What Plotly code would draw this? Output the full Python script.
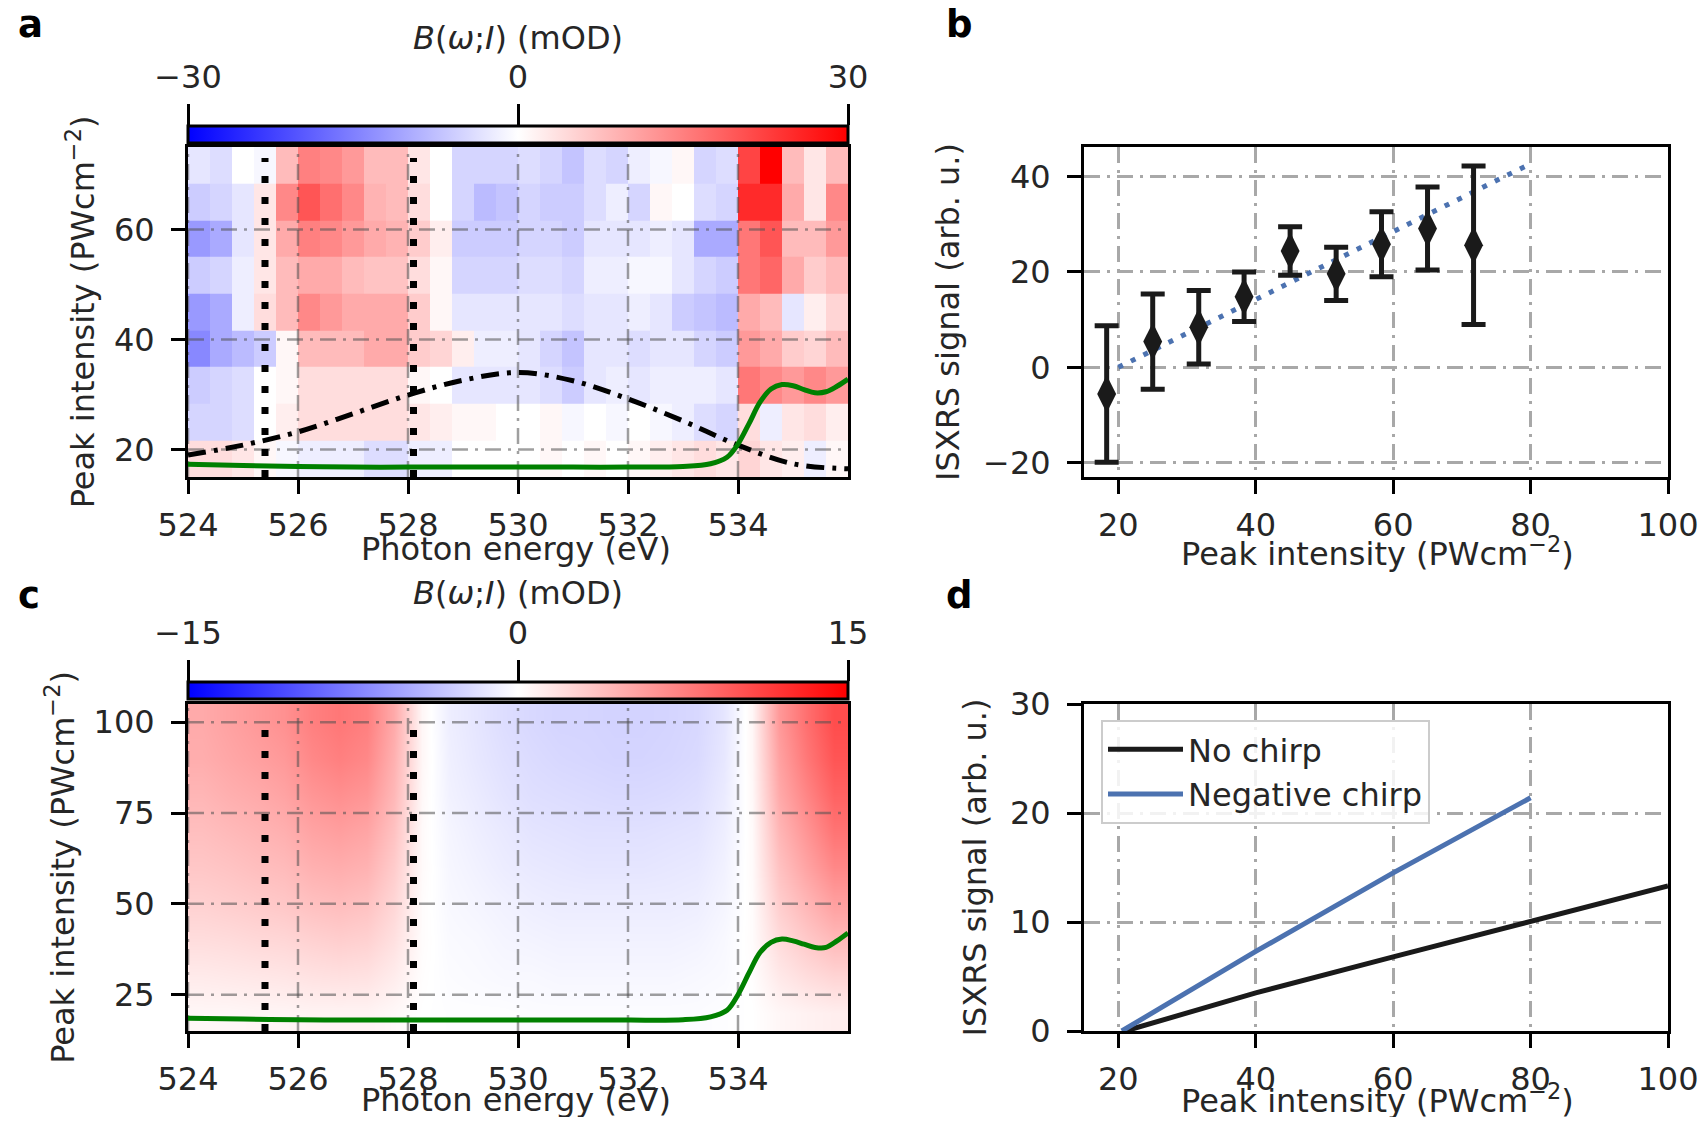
import plotly.graph_objects as go

# page body has an 8 px margin, so the figure is made smaller and positions are given in window px
OFF = 8
SW, SH = 1706, 1125
W, H = SW - 2 * OFF, SH - 2 * OFF
FONT = "DejaVu Sans"
TXT = "#262626"

# ---------------- Panel a data ----------------
energy_a = [524.2, 524.6, 525.0, 525.4, 525.8, 526.2, 526.6, 527.0, 527.4, 527.8,
            528.2, 528.6, 529.0, 529.4, 529.8, 530.2, 530.6, 531.0, 531.4, 531.8,
            532.2, 532.6, 533.0, 533.4, 533.8, 534.2, 534.6, 535.0, 535.4, 535.8]
intensity_a = [18.3, 25.0, 31.7, 38.3, 45.0, 51.7, 58.3, 65.0, 71.7]
B_a = [
    [4, 4, 3, 1, -1, -2, -2, -2, -4, -4, -2, -2, 0, 0, 0, 0, 1, 0, 1, 0, 1, 2, 3, 4, 3, 5, 3, 2, -2, 1],
    [-5, -5, -4, 0, 2, 4, 4, 4, 4, 4, 3, 2, 1, 1, 0, 0, 1, -1, 0, -1, 0, -1, -2, -4, -5, 4, -2, 3, 4, 2],
    [-6, -5, -4, 0, 1, 4, 4, 4, 4, 4, 1, 0, -3, -3, -3, -3, -4, -6, -3, -2, -3, -2, -2, -2, -3, 16, 14, 12, 14, 12],
    [-14, -10, -8, -6, 1, 8, 8, 8, 10, 10, 6, 5, 2, -2, -2, -3, -5, -7, -3, -3, -4, -3, -3, -5, -6, 12, 10, 6, 5, 8],
    [-12, -10, -2, 4, 8, 14, 12, 10, 10, 10, 6, 1, -3, -3, -3, -3, -3, -4, -3, -3, -2, -3, -6, -7, -8, 10, 8, -3, 2, 5],
    [-6, -5, -2, 3, 8, 10, 10, 8, 7, 7, 4, 1, -5, -5, -5, -4, -4, -5, -2, -2, -1, -1, -3, -5, -6, 16, 18, 10, 6, 8],
    [-12, -10, -3, 3, 10, 15, 14, 12, 10, 9, 6, 2, -6, -6, -6, -5, -5, -6, -3, -3, -3, -2, -3, -10, -10, 16, 20, 8, 8, 12],
    [-6, -5, -3, 3, 14, 20, 17, 14, 9, 8, 4, 0, -5, -8, -7, -5, -6, -6, -4, -2, -5, 1, 0, -4, -5, 25, 25, 10, 3, 14],
    [-3, -4, 0, -1, 8, 15, 14, 12, 8, 8, 3, 0, -5, -5, -5, -4, -5, -7, -4, -5, -2, -1, 1, -5, -4, 22, 30, 8, 3, 8],
]
pulse_energy = [524, 525, 526, 527, 528, 529, 530, 531, 532, 533, 534, 535, 536]
pulse_a = [19.0, 20.8, 23.2, 26.5, 29.9, 32.6, 34.0, 32.5, 29.2, 25.2, 20.8, 17.4, 16.5]

green_energy = [524.0, 525.0, 526.0, 527.0, 528.0, 529.0, 530.0, 531.0, 532.0, 533.0, 533.5,
                533.8, 534.0, 534.2, 534.4, 534.6, 534.8, 535.0, 535.2, 535.4, 535.6, 535.8, 536.0]
green_a = [17.3, 17.1, 16.9, 16.8, 16.8, 16.8, 16.8, 16.8, 16.8, 16.9, 17.4,
           18.6, 21.0, 24.7, 28.6, 31.0, 31.8, 31.6, 30.9, 30.3, 30.5, 31.5, 32.8]
green_c = [18.5, 18.3, 18.1, 18.0, 18.0, 18.0, 18.0, 18.0, 18.0, 18.1, 18.9,
           20.7, 25.0, 31.0, 36.6, 39.4, 40.3, 39.8, 38.9, 38.0, 38.0, 39.8, 42.0]

vline_energy = [525.4, 528.1]
vline_top_a = 73.0
vline_top_c = 101.0

# ---------------- Panel c data ----------------
energy_c = [524.25, 524.75, 525.25, 525.75, 526.25, 526.75, 527.25, 527.75, 528.25, 528.75,
            529.25, 529.75, 530.25, 530.75, 531.25, 531.75, 532.25, 532.75, 533.25, 533.75,
            534.25, 534.75, 535.25, 535.75]
intensity_c = [20, 30, 40, 50, 60, 70, 80, 90, 100]
B_c = [
    [0.5, 0.5, 0.6, 0.6, 0.7, 0.7, 0.7, 0.4, 0.0, -0.1, -0.1, -0.1, -0.2, -0.2, -0.2, -0.2, -0.2, -0.2, -0.2, -0.1, 0.0, 0.5, 0.8, 1.0],
    [1.2, 1.3, 1.4, 1.5, 1.7, 1.8, 1.7, 1.1, 0.1, -0.2, -0.3, -0.4, -0.4, -0.5, -0.5, -0.5, -0.5, -0.5, -0.4, -0.3, 0.1, 1.3, 2.0, 2.5],
    [2.0, 2.1, 2.3, 2.4, 2.7, 2.9, 2.7, 1.8, 0.2, -0.3, -0.4, -0.6, -0.7, -0.8, -0.8, -0.8, -0.8, -0.8, -0.7, -0.4, 0.2, 2.1, 3.2, 4.1],
    [2.7, 2.9, 3.1, 3.3, 3.7, 3.9, 3.6, 2.4, 0.2, -0.4, -0.6, -0.8, -1.0, -1.1, -1.1, -1.1, -1.1, -1.1, -1.0, -0.6, 0.2, 2.9, 4.3, 5.6],
    [3.3, 3.5, 3.8, 4.0, 4.6, 4.8, 4.5, 3.0, 0.3, -0.5, -0.8, -1.1, -1.3, -1.4, -1.5, -1.5, -1.5, -1.4, -1.3, -0.8, 0.3, 3.6, 5.4, 7.0],
    [3.8, 4.1, 4.4, 4.7, 5.4, 5.7, 5.3, 3.6, 0.3, -0.6, -1.0, -1.3, -1.6, -1.7, -1.8, -1.8, -1.8, -1.7, -1.6, -1.0, 0.3, 4.3, 6.3, 8.2],
    [4.3, 4.7, 5.0, 5.4, 6.2, 6.6, 6.2, 4.2, 0.4, -0.8, -1.2, -1.6, -1.9, -2.0, -2.1, -2.2, -2.2, -2.1, -1.9, -1.2, 0.4, 5.0, 7.2, 9.2],
    [4.8, 5.2, 5.6, 6.0, 7.0, 7.5, 7.0, 4.6, 0.5, -0.9, -1.4, -1.8, -2.1, -2.3, -2.4, -2.5, -2.5, -2.4, -2.2, -1.4, 0.5, 5.5, 8.0, 10.0],
    [5.0, 5.5, 6.0, 6.5, 7.5, 8.0, 7.5, 5.0, 0.5, -1.0, -1.5, -2.0, -2.3, -2.5, -2.5, -2.6, -2.6, -2.5, -2.3, -1.5, 0.5, 6.0, 8.5, 10.5],
]

# ---------------- Panel b data ----------------
intensity_b = [18.3, 25.0, 31.7, 38.3, 45.0, 51.7, 58.3, 65.0, 71.7]
isxrs_b = [-5.6, 5.4, 8.4, 14.8, 24.4, 19.6, 25.8, 29.1, 25.6]
isxrs_err = [14.3, 10.0, 7.7, 5.2, 5.1, 5.6, 6.8, 8.7, 16.6]
fit_x = [20, 80]
fit_y = [0.0, 42.7]

# ---------------- Panel d data ----------------
nochirp_x = [21, 40, 60, 80, 100]
nochirp_y = [0.0, 3.5, 6.8, 10.0, 13.3]
negchirp_x = [20.5, 40, 60, 80]
negchirp_y = [0.0, 7.3, 14.5, 21.4]

# ---------------- ticks / ranges ----------------
energy_ticks = [524, 526, 528, 530, 532, 534]
energy_range = [524, 536]
int_ticks_a = [20, 40, 60]
int_range_a = [15, 75]
int_ticks_c = [25, 50, 75, 100]
int_range_c = [15, 105]
cb_ticks_a = [-30, 0, 30]
cb_ticks_c = [-15, 0, 15]
peak_ticks = [20, 40, 60, 80, 100]
peak_range = [15, 100]
b_yticks = [-20, 0, 20, 40]
b_yrange = [-23, 46.2]
d_yticks = [0, 10, 20, 30]
d_yrange = [0, 30]

BWR = [[0.0, "rgb(0,0,255)"], [0.5, "rgb(255,255,255)"], [1.0, "rgb(255,0,0)"]]
GREEN = "#008000"
BLUE = "#4C72B0"
DASHDOT = "18px,8px,4px,8px"
GRIDDASH = "16px,7px,3px,7px"


def fx(sx):
    return (sx - OFF) / W


def fy(sy):
    return 1 - (sy - OFF) / H


def xd(a, b):
    return [fx(a), fx(b)]


def yd(top, bottom):
    return [fy(bottom), fy(top)]


# positions in window pixels
PA = dict(x=(188, 848), y=(147, 477))
PB = dict(x=(1084, 1668), y=(147, 477))
PC = dict(x=(188, 848), y=(704, 1031))
PD = dict(x=(1084, 1668), y=(704, 1031))
STRIP_A = (126, 143)
STRIP_C = (682, 699)

fig = go.Figure()


def cbar(strip, panel):
    return dict(orientation="h", x=fx((panel["x"][0] + panel["x"][1]) / 2), xanchor="center",
                y=fy(strip[0]), yanchor="top", len=(panel["x"][1] - panel["x"][0]) / W,
                lenmode="fraction", thickness=strip[1] - strip[0], thicknessmode="pixels",
                outlinewidth=3, outlinecolor="black", showticklabels=False, ticks="",
                xpad=0, ypad=0)


def grid_lines(xticks, yticks, xr, yr, xa, ya):
    xs, ys = [], []
    for t in xticks:
        xs += [t, t, None]
        ys += [yr[0], yr[1], None]
    for t in yticks:
        xs += [xr[0], xr[1], None]
        ys += [t, t, None]
    return go.Scatter(x=xs, y=ys, mode="lines", xaxis=xa, yaxis=ya, showlegend=False,
                      hoverinfo="skip",
                      line=dict(color="rgba(80,80,80,0.55)", width=2.5, dash=GRIDDASH))


def vlines(top, yr, xa, ya):
    xs, ys = [], []
    for e in vline_energy:
        xs += [e, e, None]
        ys += [yr[0], top, None]
    return go.Scatter(x=xs, y=ys, mode="lines", xaxis=xa, yaxis=ya, showlegend=False,
                      line=dict(color="black", width=7, dash="7px,14px"))


def cb_anchor(ticks, xa, ya):
    # invisible helper so the colour-bar tick axis gets drawn
    return go.Scatter(x=ticks, y=[0.5] * len(ticks), mode="markers", xaxis=xa, yaxis=ya,
                      marker=dict(opacity=0), hoverinfo="skip", showlegend=False)


# ---- Panel a ----
fig.add_trace(go.Heatmap(x=energy_a, y=intensity_a, z=B_a, colorscale=BWR, zmin=-30, zmax=30,
                         xaxis="x", yaxis="y", colorbar=cbar(STRIP_A, PA)))
fig.add_trace(grid_lines(energy_ticks, int_ticks_a, energy_range, int_range_a, "x", "y"))
fig.add_trace(vlines(vline_top_a, int_range_a, "x", "y"))
fig.add_trace(go.Scatter(x=pulse_energy, y=pulse_a, mode="lines", xaxis="x", yaxis="y",
                         showlegend=False, line=dict(color="black", width=5, dash=DASHDOT, shape="spline")))
fig.add_trace(go.Scatter(x=green_energy, y=green_a, mode="lines", xaxis="x", yaxis="y",
                         showlegend=False, line=dict(color=GREEN, width=5, shape="spline")))
fig.add_trace(cb_anchor(cb_ticks_a, "x5", "y5"))

# ---- Panel c ----
fig.add_trace(go.Heatmap(x=energy_c, y=intensity_c, z=B_c, colorscale=BWR, zmin=-15, zmax=15,
                         zsmooth="best", xaxis="x3", yaxis="y3", colorbar=cbar(STRIP_C, PC)))
fig.add_trace(grid_lines(energy_ticks, int_ticks_c, energy_range, int_range_c, "x3", "y3"))
fig.add_trace(vlines(vline_top_c, int_range_c, "x3", "y3"))
fig.add_trace(go.Scatter(x=green_energy, y=green_c, mode="lines", xaxis="x3", yaxis="y3",
                         showlegend=False, line=dict(color=GREEN, width=5, shape="spline")))
fig.add_trace(cb_anchor(cb_ticks_c, "x6", "y6"))

# ---- Panel b ----
fig.add_trace(go.Scatter(x=fit_x, y=fit_y, mode="lines", xaxis="x2", yaxis="y2", showlegend=False,
                         line=dict(color=BLUE, width=5, dash="5px,9px")))
fig.add_trace(go.Scatter(x=intensity_b, y=isxrs_b, mode="markers", xaxis="x2", yaxis="y2",
                         showlegend=False,
                         marker=dict(symbol="diamond-tall", size=27, color="#1a1a1a"),
                         error_y=dict(type="data", array=isxrs_err, color="#1a1a1a",
                                      thickness=5, width=12)))

# ---- Panel d ----
fig.add_trace(go.Scatter(x=nochirp_x, y=nochirp_y, mode="lines", name="No chirp", xaxis="x4", yaxis="y4",
                         line=dict(color="#1a1a1a", width=5)))
fig.add_trace(go.Scatter(x=negchirp_x, y=negchirp_y, mode="lines", name="Negative chirp", xaxis="x4", yaxis="y4",
                         line=dict(color=BLUE, width=5)))

tickfont = dict(family=FONT, size=32, color=TXT)
titlefont = dict(family=FONT, size=32, color=TXT)


def axis(domain, anchor, rng, tickvals, title=None, grid=False, standoff=8, labelpad=10):
    d = dict(domain=domain, anchor=anchor, range=rng, tickvals=tickvals, showline=True,
             linecolor="black", linewidth=3, mirror=True, ticks="outside", ticklen=14,
             tickwidth=3, tickcolor="black", tickfont=tickfont, zeroline=False,
             showgrid=grid, ticklabelstandoff=labelpad, automargin=False,
             ticklabeloverflow="allow")
    if grid:
        d.update(gridcolor="#a8a8a8", gridwidth=2.5, griddash=GRIDDASH)
    if title:
        d["title"] = dict(text=title, font=titlefont, standoff=standoff)
    return d


PEAK = "Peak intensity (PWcm<sup>−2</sup>)"
ISX = "ISXRS signal (arb. u.)"
BTITLE = "<i>B</i>(<i>ω</i>;<i>I</i>) (mOD)"
EN = "Photon energy (eV)"


def cb_axis(domain, anchor, ticks):
    return dict(domain=domain, anchor=anchor, side="top", range=[ticks[0], ticks[-1]],
                tickvals=ticks, ticks="outside", ticklen=21, tickwidth=3, tickcolor="black",
                tickfont=tickfont, showline=False, showgrid=False, zeroline=False,
                ticklabelstandoff=3, automargin=False, ticklabeloverflow="allow")


def label(text, sx, sy, size=32, bold=False, xanchor="center", yanchor="middle"):
    return dict(text=f"<b>{text}</b>" if bold else text, x=fx(sx), y=fy(sy), xref="paper",
                yref="paper", xanchor=xanchor, yanchor=yanchor, showarrow=False,
                font=dict(family=FONT, size=size, color="black" if bold else TXT))


layout = dict(
    width=W, height=H, margin=dict(l=0, r=0, t=0, b=0, autoexpand=False),
    paper_bgcolor="white", plot_bgcolor="white",
    font=dict(family=FONT, size=32, color=TXT),
    xaxis=axis(xd(*PA["x"]), "y", energy_range, energy_ticks, labelpad=4),
    yaxis=axis(yd(*PA["y"]), "x", int_range_a, int_ticks_a, PEAK, standoff=10),
    xaxis2=axis(xd(*PB["x"]), "y2", peak_range, peak_ticks, grid=True, labelpad=4),
    yaxis2=axis(yd(*PB["y"]), "x2", b_yrange, b_yticks, ISX, grid=True, standoff=14),
    xaxis3=axis(xd(*PC["x"]), "y3", energy_range, energy_ticks, labelpad=4),
    yaxis3=axis(yd(*PC["y"]), "x3", int_range_c, int_ticks_c, PEAK, standoff=10),
    xaxis4=axis(xd(*PD["x"]), "y4", peak_range, peak_ticks, grid=True, labelpad=4),
    yaxis4=axis(yd(*PD["y"]), "x4", d_yrange, d_yticks, ISX, grid=True, standoff=14),
    xaxis5=cb_axis(xd(*PA["x"]), "y5", cb_ticks_a),
    yaxis5=dict(domain=yd(*STRIP_A), anchor="x5", visible=False, range=[0, 1]),
    xaxis6=cb_axis(xd(*PC["x"]), "y6", cb_ticks_c),
    yaxis6=dict(domain=yd(*STRIP_C), anchor="x6", visible=False, range=[0, 1]),
    legend=dict(x=fx(1101), y=fy(720), xanchor="left", yanchor="top",
                bgcolor="rgba(255,255,255,0.85)", bordercolor="#cccccc", borderwidth=2,
                font=dict(family=FONT, size=32, color=TXT), itemwidth=75, tracegroupgap=4),
    annotations=[
        label("a", 16, 25, size=37, bold=True, xanchor="left"),
        label("b", 944, 25, size=37, bold=True, xanchor="left"),
        label("c", 16, 595, size=37, bold=True, xanchor="left"),
        label("d", 944, 595, size=37, bold=True, xanchor="left"),
        label(BTITLE, 518, 38),
        label(BTITLE, 518, 593),
        label(EN, 516, 549),
        label(PEAK, 1377, 552),
        label(EN, 516, 1100),
        label(PEAK, 1377, 1099),
    ],
)
fig.update_layout(**layout)
fig.write_html("out.html")
